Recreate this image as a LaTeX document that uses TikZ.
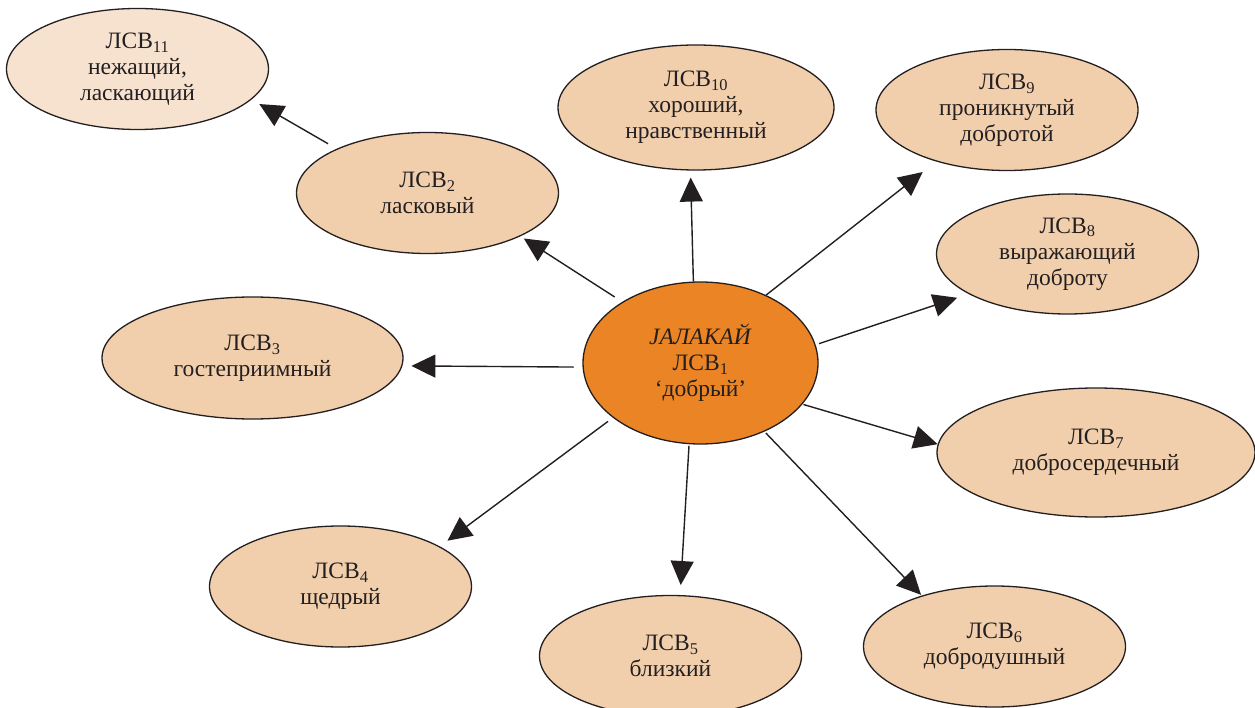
\documentclass[tikz,border=0pt]{standalone}
\usepackage{fontspec}
\setmainfont{Liberation Serif}
\usetikzlibrary{shapes.geometric,arrows.meta}

\begin{document}
\begin{tikzpicture}[x=1pt,y=-1pt,
  lsv/.style={ellipse,draw=edgecolor,line width=1.3pt,fill=fillcolor,inner sep=0pt,
    align=center,text=textcolor,font=\fontsize{23.5}{26}\selectfont,
    minimum width=262pt,minimum height=121pt},
  link/.style={draw=edgecolor,line width=1.4pt,-{Triangle[length=24pt,width=23pt]}}]
\definecolor{fillcolor}{RGB}{241,207,172}
\definecolor{palecolor}{RGB}{246,226,207}
\definecolor{corecolor}{RGB}{234,132,36}
\definecolor{edgecolor}{RGB}{35,31,32}
\definecolor{textcolor}{RGB}{35,31,32}
\useasboundingbox (0,0) rectangle (1255,708);
\node[lsv,fill=palecolor] (lsv11) at (137.5,69) {ЛСВ\textsubscript{11}\\нежащий,\\ласкающий};
\node[lsv] (lsv2) at (427.5,193) {ЛСВ\textsubscript{2}\\ласковый};
\node[lsv,minimum width=276pt,minimum height=125pt] (lsv10) at (696,107.5) {ЛСВ\textsubscript{10}\\хороший,\\нравственный};
\node[lsv] (lsv9) at (1007,110) {ЛСВ\textsubscript{9}\\проникнутый\\добротой};
\node[lsv,minimum height=120pt] (lsv8) at (1067.5,254) {ЛСВ\textsubscript{8}\\выражающий\\доброту};
\node[lsv,minimum width=301pt,minimum height=122pt] (lsv3) at (252.5,358) {ЛСВ\textsubscript{3}\\гостеприимный};
\node[lsv,minimum width=318pt,minimum height=129pt] (lsv7) at (1096,452.5) {ЛСВ\textsubscript{7}\\добросердечный};
\node[lsv] (lsv4) at (340.5,586.5) {ЛСВ\textsubscript{4}\\щедрый};
\node[lsv] (lsv5) at (670.5,656) {ЛСВ\textsubscript{5}\\близкий};
\node[lsv] (lsv6) at (994.5,646.5) {ЛСВ\textsubscript{6}\\добродушный};
\node[lsv,fill=corecolor,minimum width=235pt,minimum height=162pt] (jal) at (700.5,363) {\textit{ЈАЛАКАЙ}\\ЛСВ\textsubscript{1}\\‘добрый’};
\draw[link,shorten <=9pt,shorten >=4pt] (jal.142.3) -- (lsv2.-25.2);
\draw[link,shorten <=10pt,shorten >=9pt] (lsv2.154.5) -- (lsv11.-15.4);
\draw[link,shorten >=7pt] (jal.95.3) -- (lsv10.-95.8);
\draw[link,shorten >=17pt] (jal.46.1) -- (lsv9.-144.7);
\draw[link,shorten <=3.5pt,shorten >=12pt] (jal.9.7) -- (lsv8.-158.9);
\draw[link,shorten <=9pt,shorten >=9pt] (jal.-178.2) -- (lsv3.-3.3);
\draw[link,shorten <=1pt] (jal.-22.5) -- (lsv7.177.7);
\draw[link,shorten <=6pt,shorten >=9.5pt] (jal.-148.4) -- (lsv4.22);
\draw[link,shorten <=1.5pt,shorten >=10pt] (jal.-98) -- (lsv5.81.5);
\draw[link,shorten <=2pt,shorten >=1pt] (jal.-47.3) -- (lsv6.145.9);
\end{tikzpicture}
\end{document}
